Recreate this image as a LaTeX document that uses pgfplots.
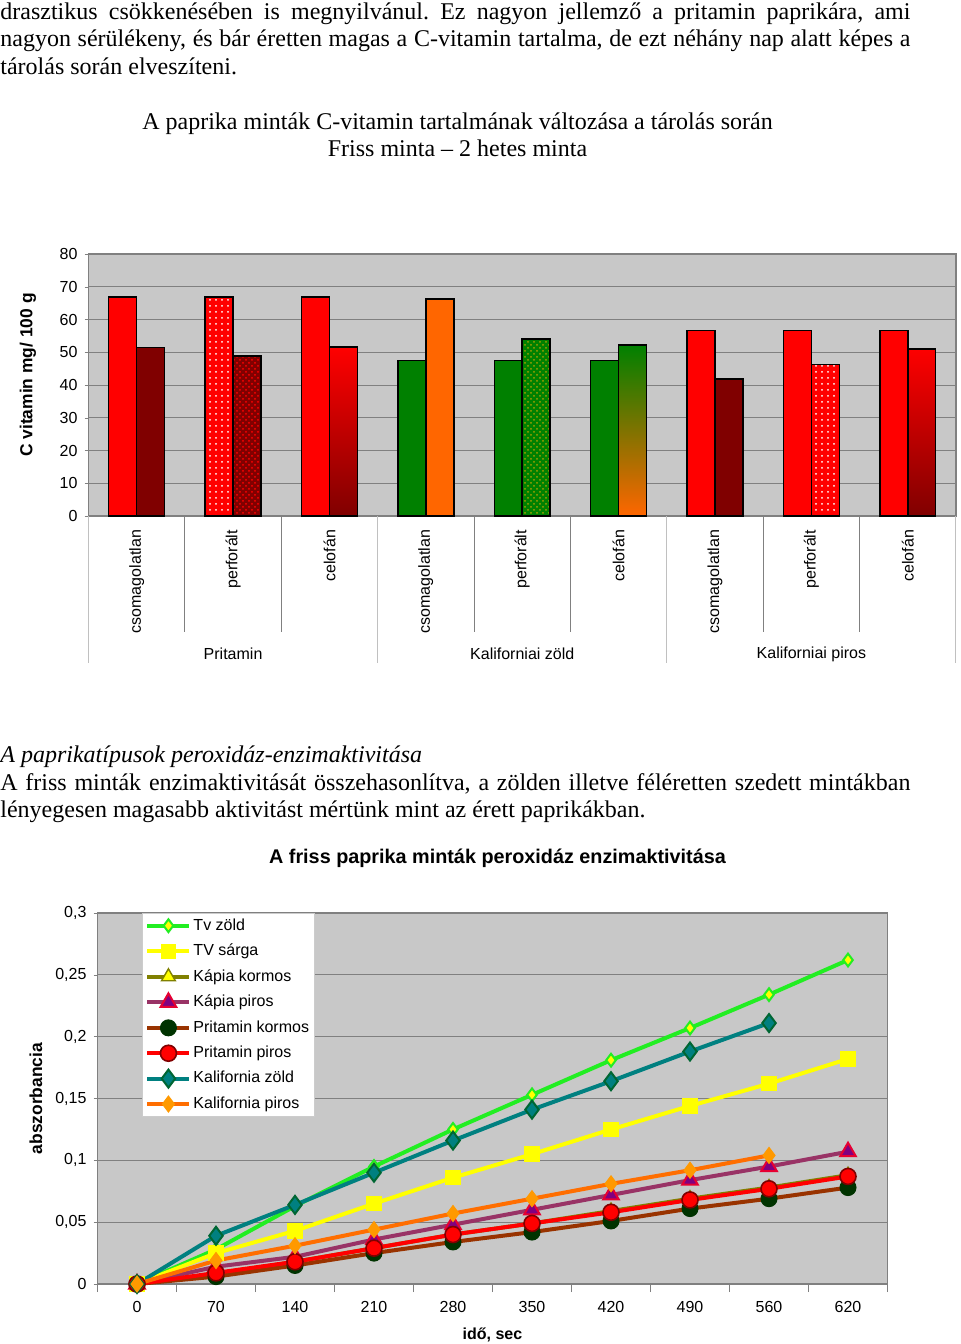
\documentclass[border=0pt]{standalone}
\usepackage{pgfplots}
\pgfplotsset{compat=1.18}
\usetikzlibrary{patterns}
\usepackage{fontspec}
\setmainfont{Liberation Serif}
\newfontfamily\arial{Liberation Sans}
\definecolor{pred}{RGB}{255,0,0}
\definecolor{pdark}{RGB}{128,0,0}
\definecolor{pgreen}{RGB}{0,128,0}
\definecolor{porange}{RGB}{255,102,0}
\definecolor{polive}{RGB}{160,160,0}
\definecolor{plotgray}{RGB}{200,200,200}
\definecolor{gridgray}{RGB}{128,128,128}
\definecolor{tvzold}{RGB}{34,238,34}
\definecolor{tvsarga}{RGB}{255,255,0}
\definecolor{kapkor}{RGB}{128,128,0}
\definecolor{kappir}{RGB}{153,51,102}
\definecolor{kappirm}{RGB}{230,0,50}
\definecolor{kappirf}{RGB}{128,0,128}
\definecolor{prikor}{RGB}{153,51,0}
\definecolor{prikorm}{RGB}{0,51,0}
\definecolor{pripir}{RGB}{255,0,0}
\definecolor{kalzold}{RGB}{0,128,128}
\definecolor{kalzoldm}{RGB}{0,102,51}
\definecolor{kalpir}{RGB}{255,110,0}
\definecolor{kalpirm}{RGB}{255,153,0}
\newcommand{\chf}{\arial\fontsize{8}{9.5}\selectfont}
\frenchspacing
\begin{document}
\begin{tikzpicture}
\path[use as bounding box] (0,0) rectangle (480pt,-672pt);
% ---- text paragraph 1
\node[anchor=base west,inner sep=0pt] at (0,-9.5pt) {\fontsize{12}{14}\selectfont\makebox[455pt][s]{drasztikus csökkenésében is megnyilvánul. Ez nagyon jellemző a pritamin paprikára, ami}};
\node[anchor=base west,inner sep=0pt] at (0,-23.25pt) {\fontsize{12}{14}\selectfont\makebox[455pt][s]{nagyon sérülékeny, és bár éretten magas a C-vitamin tartalma, de ezt néhány nap alatt képes a}};
\node[anchor=base west,inner sep=0pt] at (0,-37pt) {\fontsize{12}{14}\selectfont tárolás során elveszíteni.};
\node[anchor=base,inner sep=0pt] at (228.75pt,-64.5pt) {\fontsize{12}{14}\selectfont A paprika minták C-vitamin tartalmának változása a tárolás során};
\node[anchor=base,inner sep=0pt] at (228.75pt,-78pt) {\fontsize{12}{14}\selectfont Friss minta -- 2 hetes minta};
% ---- text paragraph 2
\node[anchor=base west,inner sep=0pt] at (0,-381pt) {\fontsize{12}{14}\selectfont\itshape A paprikatípusok peroxidáz-enzimaktivitása};
\node[anchor=base west,inner sep=0pt] at (0,-395pt) {\fontsize{12}{14}\selectfont\makebox[455pt][s]{A friss minták enzimaktivitását összehasonlítva, a zölden illetve féléretten szedett mintákban}};
\node[anchor=base west,inner sep=0pt] at (0,-408.5pt) {\fontsize{12}{14}\selectfont lényegesen magasabb aktivitást mértünk mint az érett paprikákban.};
\node[anchor=base,inner sep=0pt] at (248.75pt,-431.5pt) {\arial\bfseries\fontsize{9.9}{12}\selectfont A friss paprika minták peroxidáz enzimaktivitása};
% ---- chart 1
\begin{axis}[
  at={(44.25pt,-258pt)}, anchor=south west,
  scale only axis, width=433.75pt, height=131pt,
  xmin=-0.5, xmax=8.5, ymin=0, ymax=80,
  ytick={0,10,...,80},
  xtick={0,...,8},
  xticklabels={csomagolatlan,perforált,celofán,csomagolatlan,perforált,celofán,csomagolatlan,perforált,celofán},
  xticklabel style={rotate=90, anchor=east, font=\chf, xshift=-1.5pt},
  yticklabel style={font=\chf},
  /pgf/number format/assume math mode=true,
  x tick style={draw=none},
  y tick style={draw=gridgray},
  tick pos=left,
  tick align=outside, major tick length=2pt,
  ymajorgrids, grid style={draw=gridgray, line width=0.5pt},
  axis background/.style={fill=plotgray},
  axis line style={draw=gridgray, line width=0.6pt},
  clip=false,
  ylabel={C vitamin mg/ 100 g},
  ylabel style={font=\arial\bfseries\fontsize{8.7}{10}\selectfont, at={(axis description cs:-0.0697,0.538)}, anchor=center},
]
\addplot[ybar, bar width=0.29, bar shift=-0.145, fill=pred, draw=black, line width=0.75pt] coordinates {(0,66.8) (2,66.8) (6,56.6) (7,56.6) (8,56.6)};
\addplot[ybar, bar width=0.29, bar shift=-0.145, fill=pred, draw=black, line width=0.75pt, postaction={pattern=dots, pattern color=white}] coordinates {(1,66.8)};
\addplot[ybar, bar width=0.29, bar shift=-0.145, fill=pgreen, draw=black, line width=0.75pt] coordinates {(3,47.5) (4,47.5) (5,47.5)};
\addplot[ybar, bar width=0.29, bar shift=0.145, fill=pdark, draw=black, line width=0.75pt] coordinates {(0,51.4) (6,41.8)};
\addplot[ybar, bar width=0.29, bar shift=0.145, fill=pdark, draw=black, line width=0.75pt, postaction={pattern=crosshatch dots, pattern color=pred}] coordinates {(1,48.9)};
\addplot[ybar, bar width=0.29, bar shift=0.145, top color=pred, bottom color=pdark, draw=black, line width=0.75pt] coordinates {(2,51.6) (8,51.0)};
\addplot[ybar, bar width=0.29, bar shift=0.145, fill=porange, draw=black, line width=0.75pt] coordinates {(3,66.2)};
\addplot[ybar, bar width=0.29, bar shift=0.145, fill=pgreen, draw=black, line width=0.75pt, postaction={pattern=crosshatch dots, pattern color=polive}] coordinates {(4,54.0)};
\addplot[ybar, bar width=0.29, bar shift=0.145, top color=pgreen, bottom color=porange, draw=black, line width=0.75pt] coordinates {(5,52.2)};
\addplot[ybar, bar width=0.29, bar shift=0.145, fill=pred, draw=black, line width=0.75pt, postaction={pattern=dots, pattern color=white}] coordinates {(7,46.3)};
% separators
\draw[gridgray,line width=0.5pt] (axis cs:0.5,0) -- ++(0pt,-58pt);
\draw[gridgray,line width=0.5pt] (axis cs:1.5,0) -- ++(0pt,-58pt);
\draw[gridgray,line width=0.5pt] (axis cs:3.5,0) -- ++(0pt,-58pt);
\draw[gridgray,line width=0.5pt] (axis cs:4.5,0) -- ++(0pt,-58pt);
\draw[gridgray,line width=0.5pt] (axis cs:6.5,0) -- ++(0pt,-58pt);
\draw[gridgray,line width=0.5pt] (axis cs:7.5,0) -- ++(0pt,-58pt);
\draw[gridgray!50,line width=0.5pt] (axis cs:-0.5,0) -- ++(0pt,-73.5pt);
\draw[gridgray!50,line width=0.5pt] (axis cs:2.5,0) -- ++(0pt,-73.5pt);
\draw[gridgray!50,line width=0.5pt] (axis cs:5.5,0) -- ++(0pt,-73.5pt);
\draw[gridgray!50,line width=0.5pt] (axis cs:8.5,0) -- ++(0pt,-73.5pt);
\node[font=\chf, yshift=-69pt] at (axis cs:1,0) {Pritamin};
\node[font=\chf, yshift=-69pt] at (axis cs:4,0) {Kaliforniai zöld};
\node[font=\chf, yshift=-69pt] at (axis cs:7,0) {Kaliforniai piros};
\end{axis}
% ---- chart 2
\begin{axis}[
  at={(48.75pt,-642pt)}, anchor=south west,
  scale only axis, width=395pt, height=185.5pt,
  xmin=-0.5, xmax=9.5, ymin=0, ymax=0.3,
  ytick={0,0.05,...,0.3},
  xtick={0,...,9},
  xticklabels={0,70,140,210,280,350,420,490,560,620},
  minor xtick={-0.5,0.5,...,9.5},
  xticklabel style={font=\chf, yshift=-3pt},
  yticklabel style={font=\chf},
  /pgf/number format/assume math mode=true,
  /pgf/number format/use comma,
  /pgf/number format/fixed,
  /pgf/number format/precision=2,
  major x tick style={draw=none},
  minor x tick style={draw=gridgray},
  y tick style={draw=gridgray},
  tick pos=left,
  tick align=outside, major tick length=2pt, minor tick length=4pt,
  ymajorgrids, grid style={draw=gridgray, line width=0.5pt},
  axis background/.style={fill=plotgray},
  axis line style={draw=gridgray, line width=0.6pt},
  clip=false,
  ylabel={abszorbancia},
  ylabel style={font=\arial\bfseries\fontsize{8.7}{10}\selectfont, at={(axis description cs:-0.078,0.5)}, anchor=center},
  xlabel={idő, sec},
  xlabel style={font=\arial\bfseries\fontsize{8}{9.5}\selectfont, at={(axis description cs:0.5,-0.1375)}, anchor=center},
  legend style={at={(0.0563,1)}, anchor=north west, draw=gridgray!40, fill=white, font=\chf, row sep=3.4pt, inner sep=1.5pt, nodes={inner sep=1pt}},
  legend cell align=left,
  legend image code/.code={\draw[mark repeat=2,mark phase=2] plot coordinates {(0cm,0cm) (0.37cm,0cm) (0.74cm,0cm)};},
  every axis plot/.append style={line width=2pt},
]
\addplot[tvzold, mark=diamond*, mark size=3.2pt, mark options={fill=tvsarga, draw=tvzold, line width=1pt}] coordinates {(0,0) (1,0.028) (2,0.063) (3,0.095) (4,0.125) (5,0.153) (6,0.181) (7,0.207) (8,0.234) (9,0.262)};
\addlegendentry{Tv zöld}
\addplot[tvsarga, mark=square*, mark size=3.6pt, mark options={fill=tvsarga, draw=tvsarga, line width=0.5pt}] coordinates {(0,0) (1,0.025) (2,0.043) (3,0.065) (4,0.086) (5,0.105) (6,0.125) (7,0.144) (8,0.162) (9,0.182)};
\addlegendentry{TV sárga}
\addplot[kapkor, mark=triangle*, mark size=4pt, mark options={fill=tvsarga, draw=kapkor, line width=0.7pt}] coordinates {(0,0) (1,0.008) (2,0.018) (3,0.029) (4,0.040) (5,0.049) (6,0.059) (7,0.069) (8,0.078) (9,0.088)};
\addlegendentry{Kápia kormos}
\addplot[kappir, mark=triangle*, mark size=4.5pt, mark options={fill=kappirf, draw=kappirm, line width=1pt}] coordinates {(0,0) (1,0.014) (2,0.022) (3,0.036) (4,0.048) (5,0.060) (6,0.072) (7,0.084) (8,0.095) (9,0.107)};
\addlegendentry{Kápia piros}
\addplot[prikor, mark=*, mark size=4pt, mark options={fill=prikorm, draw=prikorm, line width=0.5pt}] coordinates {(0,0) (1,0.006) (2,0.015) (3,0.025) (4,0.034) (5,0.042) (6,0.051) (7,0.061) (8,0.069) (9,0.078)};
\addlegendentry{Pritamin kormos}
\addplot[pripir, mark=*, mark size=4pt, mark options={fill=pripir, draw=pdark, line width=0.8pt}] coordinates {(0,0) (1,0.009) (2,0.018) (3,0.029) (4,0.040) (5,0.049) (6,0.058) (7,0.068) (8,0.077) (9,0.087)};
\addlegendentry{Pritamin piros}
\addplot[kalzold, mark=diamond*, mark size=4.5pt, mark options={fill=kalzold, draw=kalzoldm, line width=1pt}] coordinates {(0,0) (1,0.039) (2,0.064) (3,0.090) (4,0.116) (5,0.141) (6,0.164) (7,0.188) (8,0.211)};
\addlegendentry{Kalifornia zöld}
\addplot[kalpir, mark=diamond*, mark size=4pt, mark options={fill=kalpirm, draw=kalpirm, line width=0.5pt}] coordinates {(0,0) (1,0.019) (2,0.031) (3,0.044) (4,0.057) (5,0.069) (6,0.081) (7,0.092) (8,0.104)};
\addlegendentry{Kalifornia piros}
\end{axis}
\end{tikzpicture}
\end{document}
